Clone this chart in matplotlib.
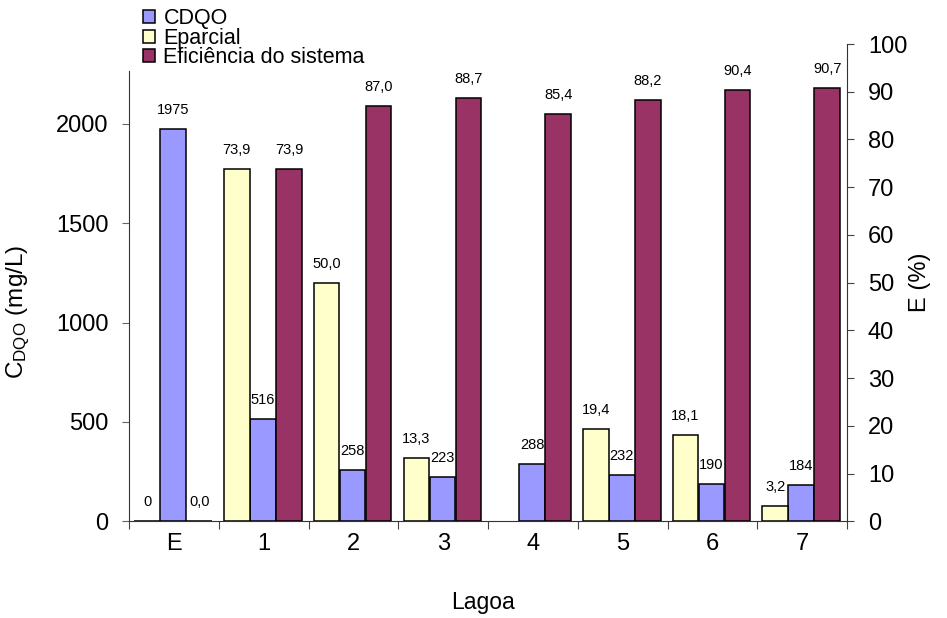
import matplotlib
matplotlib.use('Agg')
import matplotlib.pyplot as plt
import numpy as np

plt.rcParams['font.family'] = ['Liberation Sans', 'DejaVu Sans']
plt.rcParams['mathtext.fontset'] = 'custom'
plt.rcParams['mathtext.rm'] = 'Liberation Sans'
plt.rcParams['mathtext.it'] = 'Liberation Sans:italic'

# dados
lagoas = ['E', '1', '2', '3', '4', '5', '6', '7']
cdqo = [1975, 516, 258, 223, 288, 232, 190, 184]
eparcial = [0, 73.9, 50.0, 13.3, None, 19.4, 18.1, 3.2]
eficiencia = [0.0, 73.9, 87.0, 88.7, 85.4, 88.2, 90.4, 90.7]

cor_cdqo = '#9999FF'
cor_epar = '#FFFFCC'
cor_efic = '#993366'


def fmt(v):
    if isinstance(v, int):
        return str(v)
    return f'{v:.1f}'.replace('.', ',')


fig = plt.figure(figsize=(9.47, 6.18), dpi=100)
ax1 = fig.add_axes([0.1365, 0.1562, 0.8944 - 0.1365, 0.9288 - 0.1562])
ax2 = ax1.twinx()

x = np.arange(len(lagoas)) + 0.5
w = 0.285
off = 0.29

b1 = ax1.bar(x - 0.01, cdqo, w, color=cor_cdqo, edgecolor='black', linewidth=1.1, zorder=3)
xs_ep = [xi - off - 0.01 for xi, v in zip(x, eparcial) if v is not None]
vs_ep = [v for v in eparcial if v is not None]
b2 = ax2.bar(xs_ep, vs_ep, w, color=cor_epar, edgecolor='black', linewidth=1.1, zorder=3)
b3 = ax2.bar(x + off - 0.01, eficiencia, w, color=cor_efic, edgecolor='black', linewidth=1.1, zorder=3)

lab_kw = dict(textcoords='offset pixels', xytext=(0, 19), ha='center', va='center', fontsize=10.5)
for xi, v in zip(x, cdqo):
    ax1.annotate(fmt(v), (xi - 0.01, v), **lab_kw)
for xi, v in zip(x, eparcial):
    if v is not None:
        ax2.annotate(fmt(v), (xi - off - 0.01, v), **lab_kw)
for xi, v in zip(x, eficiencia):
    ax2.annotate(fmt(v), (xi + off - 0.01, v), **lab_kw)

# eixos
ax1.set_xlim(0, len(lagoas))
ax1.set_ylim(0, 2400)
ax2.set_ylim(0, 100)
ax1.set_yticks([0, 500, 1000, 1500, 2000])
ax2.set_yticks(range(0, 101, 10))

ax1.set_xticks(np.arange(len(lagoas) + 1))
ax1.set_xticklabels([])
ax1.set_xticks(x, minor=True)
ax1.set_xticklabels(lagoas, minor=True, fontsize=17)
ax1.tick_params(axis='x', which='minor', length=0, pad=8)
ax1.tick_params(axis='x', which='major', length=6, direction='out', color='#444444')
ax1.tick_params(axis='y', length=5, labelsize=17, pad=10, color='#666666')
ax2.tick_params(axis='y', length=5, labelsize=17, pad=10, color='#444444')

for s in ['top']:
    ax1.spines[s].set_visible(False)
    ax2.spines[s].set_visible(False)
ax2.spines['left'].set_visible(False)
ax2.spines['bottom'].set_visible(False)
ax1.spines['right'].set_visible(False)
ax1.spines['left'].set_bounds(0, 2266)
ax1.spines['left'].set_color('#333333')
ax2.spines['right'].set_color('#333333')
ax1.spines['bottom'].set_color('#333333')

ax1.set_ylabel(r'C$_{\mathrm{DQO}}$ (mg/L)', fontsize=17.5)
ax1.yaxis.set_label_coords(-0.1356, 0.439)
ax2.set_ylabel('E (%)', fontsize=17)
ax2.yaxis.set_label_coords(1.086, 0.5)
ax1.set_xlabel('Lagoa', fontsize=16.5)
ax1.xaxis.set_label_coords(0.493, -0.145)

fig.legend([b1, b2, b3], ['CDQO', 'Eparcial', 'Eficiência do sistema'],
           loc='upper left', bbox_to_anchor=(143 / 947, 1 - 8 / 618),
           frameon=False, fontsize=15.5, borderpad=0, borderaxespad=0,
           handlelength=0.55, handleheight=0.55, handletextpad=0.4,
           labelspacing=-0.06)

fig.savefig('out.png', dpi=100)
